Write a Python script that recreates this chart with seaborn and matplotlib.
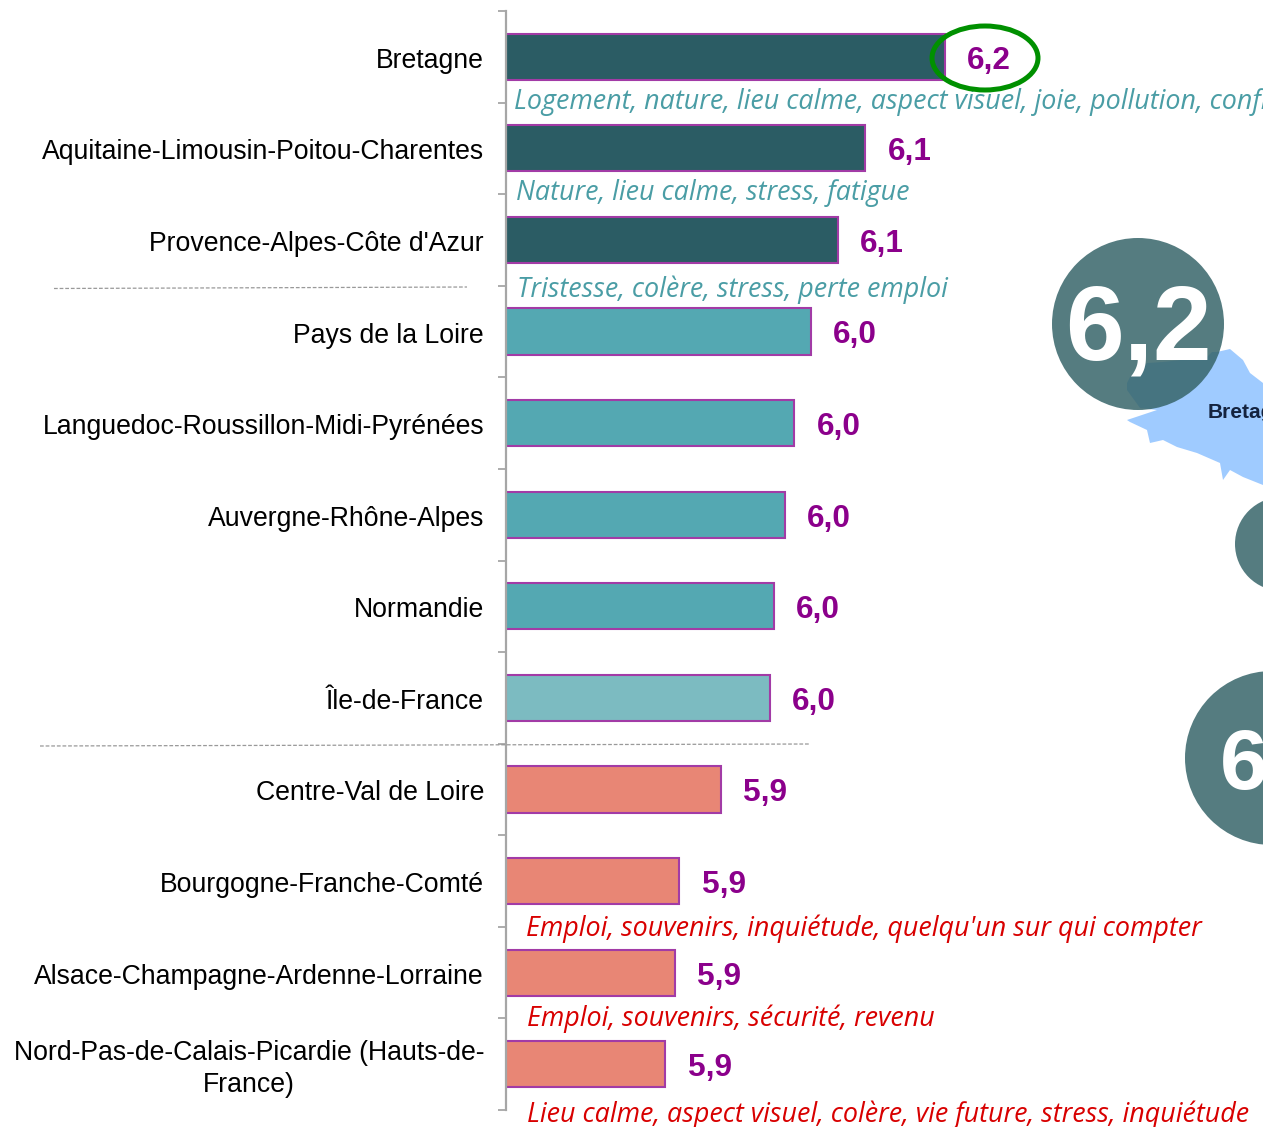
# Bien-etre par region, barres + commentaires
import matplotlib
matplotlib.use('Agg')
import matplotlib.pyplot as plt
import numpy as np
import pandas as pd
import seaborn as sns
from matplotlib.patches import Circle, Ellipse, Polygon
from matplotlib.transforms import ScaledTranslation

regions = ['Bretagne', 'Aquitaine-Limousin-Poitou-Charentes', "Provence-Alpes-Côte d'Azur",
           'Pays de la Loire', 'Languedoc-Roussillon-Midi-Pyrénées', 'Auvergne-Rhône-Alpes',
           'Normandie', 'Île-de-France', 'Centre-Val de Loire', 'Bourgogne-Franche-Comté',
           'Alsace-Champagne-Ardenne-Lorraine', 'Nord-Pas-de-Calais-Picardie (Hauts-de-\nFrance)']
scores = [6.20, 6.109, 6.078, 6.047, 6.028, 6.017, 6.005, 6.00, 5.944, 5.897, 5.892, 5.881]
labels = ['6,2', '6,1', '6,1', '6,0', '6,0', '6,0', '6,0', '6,0', '5,9', '5,9', '5,9', '5,9']
bar_colors = ['#2B5C64'] * 3 + ['#54A8B2'] * 4 + ['#7CBBC1'] + ['#E88675'] * 4

teal_notes = ['Logement, nature, lieu calme, aspect visuel, joie, pollution, confiance',
              'Nature, lieu calme, stress, fatigue',
              'Tristesse, colère, stress, perte emploi']
red_notes = ["Emploi, souvenirs, inquiétude, quelqu'un sur qui compter",
             'Emploi, souvenirs, sécurité, revenu',
             'Lieu calme, aspect visuel, colère, vie future, stress, inquiétude']

W, H = 1263, 1127
PURPLE = '#8B008B'
GREY = '#A6A6A6'

sns.set_theme(style='white')
plt.rcParams['font.family'] = ['Liberation Sans', 'DejaVu Sans']

df = pd.DataFrame({'region': regions, 'score': scores})

fig = plt.figure(figsize=(W / 100, H / 100), dpi=100)
ax = fig.add_axes([506 / W, 1 - 1110 / H, (W - 506) / W, (1110 - 11) / H])

sns.barplot(data=df, x='score', y='region', hue='region', palette=bar_colors, dodge=False,
            legend=False, width=0.505, saturation=1, edgecolor='#A23BA6', linewidth=1.5, ax=ax)

ax.set_xlim(5.699, 5.699 + (W - 506) / 876)
ax.set_ylim(11.5, -0.5)
ax.set_xlabel('')
ax.set_ylabel('')
ax.set_xticks([])
for s in ['top', 'right', 'bottom']:
    ax.spines[s].set_visible(False)
ax.spines['left'].set_color(GREY)
ax.spines['left'].set_linewidth(1.6)

ax.set_yticks(np.arange(-0.5, 12, 1), minor=True)
ax.tick_params(axis='y', which='minor', length=6, width=1.3, color=GREY, left=True)
ax.tick_params(axis='y', which='major', length=0, pad=15.8, labelsize=19.2, labelcolor='black')
for t in ax.get_yticklabels():
    t.set_multialignment('center')
    if '\n' in t.get_text():
        t.set_linespacing(1.3)
        dy = 1 / 100
    else:
        dy = -1 / 100
    t.set_transform(t.get_transform() + ScaledTranslation(0, dy, fig.dpi_scale_trans))

# valeurs en bout de barre
for i, (v, lab) in enumerate(zip(scores, labels)):
    ax.annotate(lab, (v, i), xytext=(16, -2.8), textcoords='offset points', color=PURPLE,
                fontsize=22.7, fontweight='bold', va='center', ha='left')

# commentaires entre les barres
note_font = dict(fontsize=19.4, style='italic', family=['Open Sans', 'DejaVu Sans'], va='center', ha='left')
for note, y, dx, dy in zip(teal_notes, [0.5, 1.5, 2.5], [8, 10, 11], [0.2, 0.9, -2.7]):
    ax.annotate(note, (5.699, y), xytext=(dx * 0.72, dy), textcoords='offset points',
                color='#4A9DA5', annotation_clip=False, **note_font)
for note, y, dx, dy in zip(red_notes, [9.5, 10.5, 11.5], [20, 21, 21], [-1.5, 0, -3.7]):
    ax.annotate(note, (5.699, y), xytext=(dx * 0.72, dy), textcoords='offset points',
                color='#D80000', annotation_clip=False, **note_font)

# calque en pixels pour la carte, les pastilles et l'ellipse
over = fig.add_axes([0, 0, 1, 1], facecolor='none')
over.set_xlim(0, W)
over.set_ylim(H, 0)
over.axis('off')

bretagne = [(1127, 420), (1157, 410), (1140, 408), (1127, 390), (1127, 383), (1130, 377), (1147, 363),
            (1163, 362), (1207, 357), (1212, 352), (1217, 352), (1230, 349), (1243, 360), (1250, 373),
            (1263, 383), (1263, 485), (1243, 477), (1230, 470), (1223, 480), (1220, 463), (1197, 453),
            (1177, 447), (1163, 440), (1150, 443), (1147, 430), (1130, 422)]
over.add_patch(Polygon(bretagne, closed=True, facecolor='#9FCBFF', edgecolor='none'))
over.text(1208, 413, 'Bretagne', color='#14233F', fontsize=15, fontweight='bold', va='center', ha='left')

for cx, cy, r in [(1138, 324, 86), (1282, 544, 47), (1272, 758, 87)]:
    over.add_patch(Circle((cx, cy), r, facecolor='#37656A', edgecolor='none', alpha=0.85))
over.text(1138, 360, '6,2', color='white', fontsize=76, fontweight='bold', va='baseline', ha='center')
over.text(1220, 789, '6,0', color='white', fontsize=62, fontweight='bold', va='baseline', ha='left')

over.add_patch(Ellipse((985, 58), 106, 64, facecolor='none', edgecolor='#009000', linewidth=3.6))

over.plot([54, 467], [288.5, 287], color='#999999', lw=0.9, ls=(0, (3, 1.5)))
over.plot([40, 810], [746, 744], color='#999999', lw=0.9, ls=(0, (3, 1.5)))

fig.savefig('out.png', dpi=100)
